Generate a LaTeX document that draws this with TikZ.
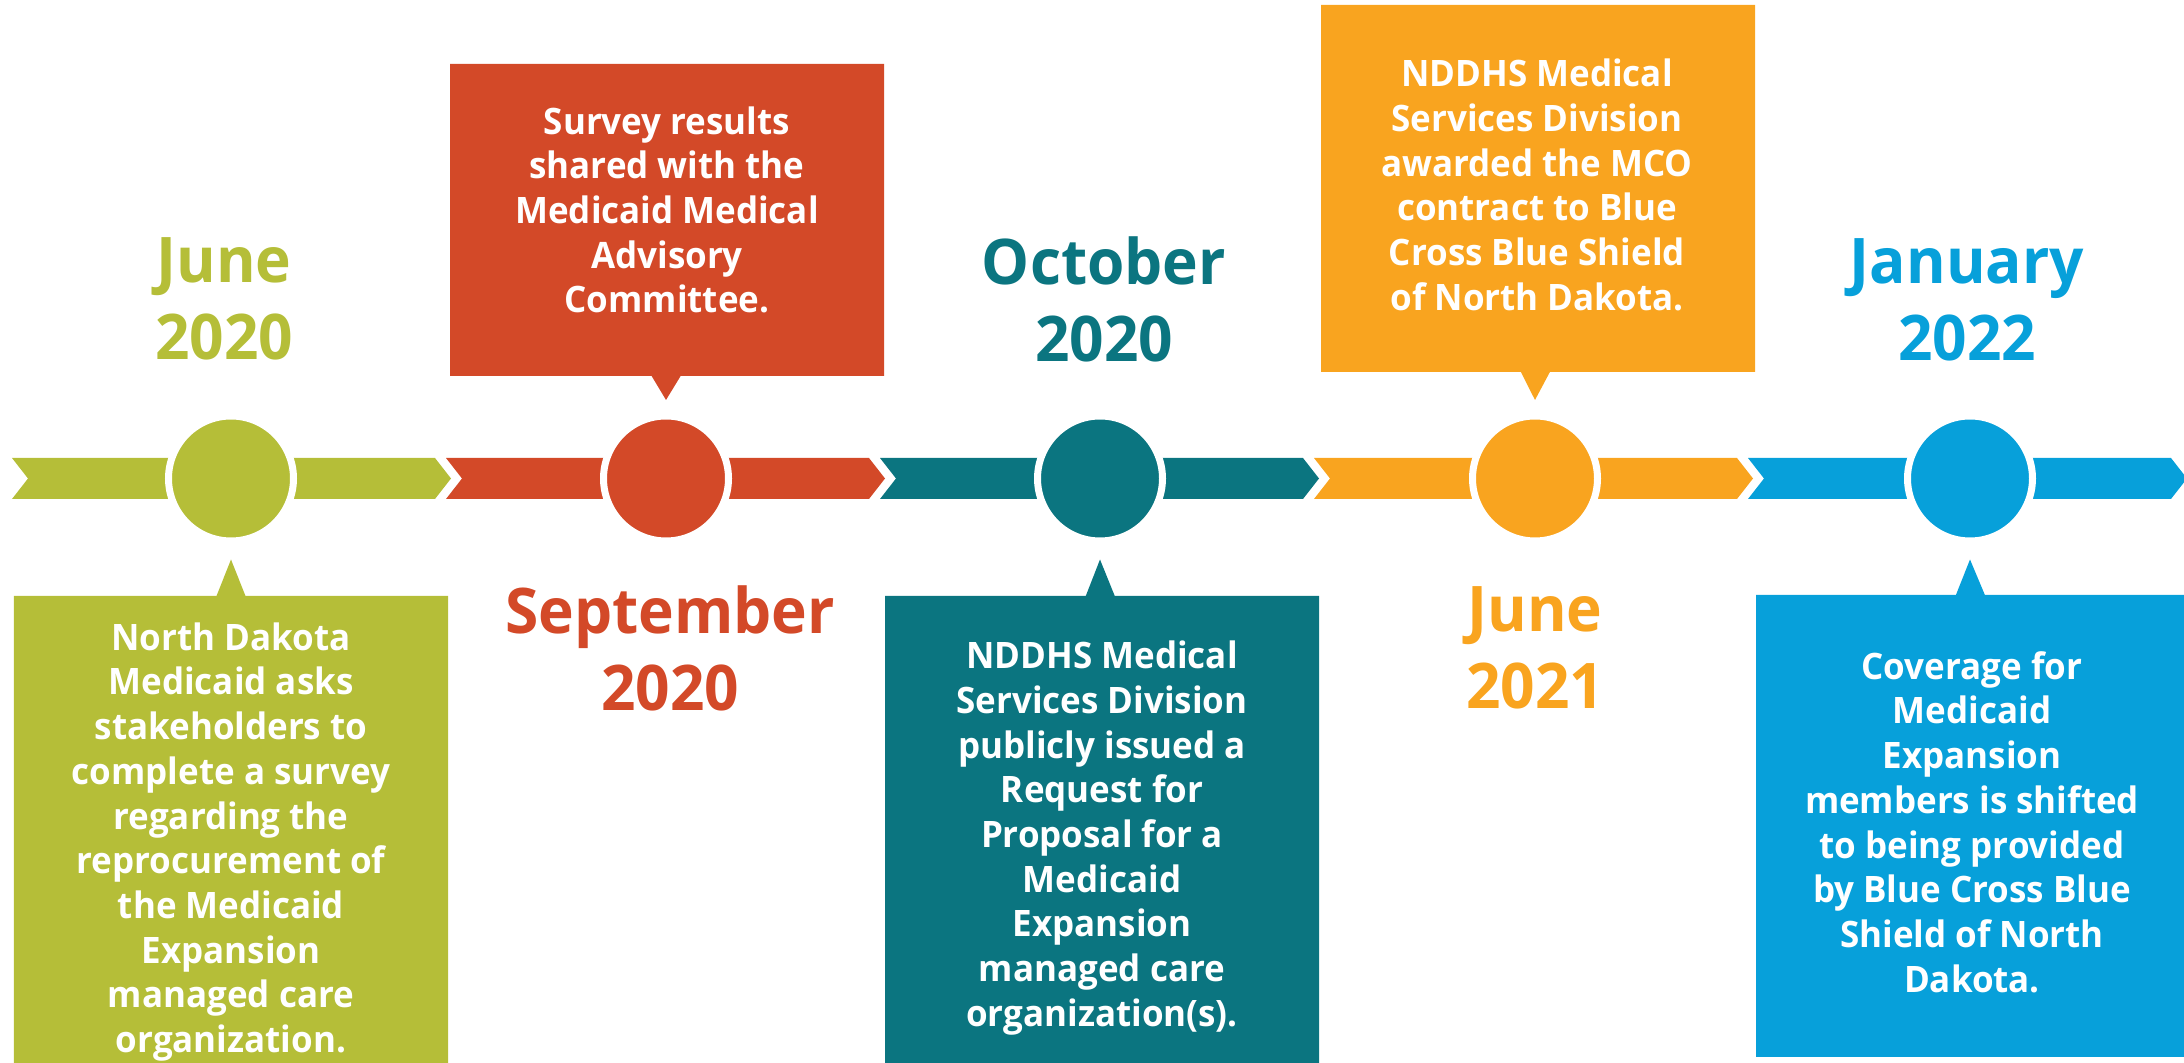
\documentclass[tikz,border=0pt]{standalone}
\usepackage{fontspec}
\setmainfont{Open Sans}[FakeStretch=0.96]
\usetikzlibrary{shapes.callouts}

\definecolor{tlgreen}{RGB}{181,190,56}
\definecolor{tlred}{RGB}{211,73,40}
\definecolor{tlteal}{RGB}{11,117,128}
\definecolor{tlorange}{RGB}{249,164,31}
\definecolor{tlblue}{RGB}{7,160,218}

\begin{document}
\begin{tikzpicture}[
    dot/.style={circle, draw=white, line width=0.07cm, minimum size=1.25cm, inner sep=0pt},
    date/.style={font=\fontsize{17.9}{21.9}\selectfont\bfseries, align=center, inner sep=0pt},
    body/.style={font=\fontsize{10.36}{12.72}\selectfont\bfseries, text=white, align=center, inner sep=0pt},
    callbox/.style={rectangle callout, minimum width=4.34cm, inner sep=0pt, callout pointer width=0.29cm}
  ]
  \useasboundingbox (0,0) rectangle (21.84,-10.63);

  % time band
  \fill[tlgreen]  (0.12,-4.58)  -- (4.35,-4.58)  -- (4.51,-4.785)  -- (4.35,-4.99)  -- (0.12,-4.99)  -- (0.28,-4.785)  -- cycle;
  \fill[tlred]    (4.46,-4.58)  -- (8.69,-4.58)  -- (8.85,-4.785)  -- (8.69,-4.99)  -- (4.46,-4.99)  -- (4.62,-4.785)  -- cycle;
  \fill[tlteal]   (8.80,-4.58)  -- (13.03,-4.58) -- (13.19,-4.785) -- (13.03,-4.99) -- (8.80,-4.99)  -- (8.96,-4.785)  -- cycle;
  \fill[tlorange] (13.14,-4.58) -- (17.37,-4.58) -- (17.53,-4.785) -- (17.37,-4.99) -- (13.14,-4.99) -- (13.30,-4.785) -- cycle;
  \fill[tlblue]   (17.48,-4.58) -- (21.71,-4.58) -- (21.87,-4.785) -- (21.71,-4.99) -- (17.48,-4.99) -- (17.64,-4.785) -- cycle;

  \node[dot, fill=tlgreen]  (dot-jun20) at (2.31,-4.785)  {};
  \node[dot, fill=tlred]    (dot-sep20) at (6.66,-4.785)  {};
  \node[dot, fill=tlteal]   (dot-oct20) at (11.00,-4.785) {};
  \node[dot, fill=tlorange] (dot-jun21) at (15.35,-4.785) {};
  \node[dot, fill=tlblue]   (dot-jan22) at (19.70,-4.785) {};

  % callouts
  \node[callbox, fill=tlgreen,  minimum height=4.94cm,
        callout absolute pointer={([yshift=-0.81cm]dot-jun20.center)}] (call-jun20) at (2.31,-8.43) {};
  \node[callbox, fill=tlred,    minimum height=3.12cm,
        callout absolute pointer={([yshift=0.785cm]dot-sep20.center)}] (call-sep20) at (6.67,-2.20) {};
  \node[callbox, fill=tlteal,   minimum height=4.94cm,
        callout absolute pointer={([yshift=-0.81cm]dot-oct20.center)}] (call-oct20) at (11.02,-8.43) {};
  \node[callbox, fill=tlorange, minimum height=3.67cm,
        callout absolute pointer={([yshift=0.785cm]dot-jun21.center)}] (call-jun21) at (15.38,-1.885) {};
  \node[callbox, fill=tlblue,   minimum height=4.62cm,
        callout absolute pointer={([yshift=-0.81cm]dot-jan22.center)}] (call-jan22) at (19.73,-8.26) {};

  \node[body] (text-jun20) at (2.31,-8.42) {North Dakota\\Medicaid asks\\stakeholders to\\complete a survey\\regarding the\\reprocurement of\\the Medicaid\\Expansion\\managed care\\organization.};
  \node[body] (text-sep20) at (6.67,-2.10) {Survey results\\shared with the\\Medicaid Medical\\Advisory\\Committee.};
  \node[body] (text-oct20) at (11.02,-8.38) {NDDHS Medical\\Services Division\\publicly issued a\\Request for\\Proposal for a\\Medicaid\\Expansion\\managed care\\organization(s).};
  \node[body] (text-jun21) at (15.37,-1.85) {NDDHS Medical\\Services Division\\awarded the MCO\\contract to Blue\\Cross Blue Shield\\of North Dakota.};
  \node[body] (text-jan22) at (19.72,-8.22) {Coverage for\\Medicaid\\Expansion\\members is shifted\\to being provided\\by Blue Cross Blue\\Shield of North\\Dakota.};

  % dates
  \node[date, text=tlgreen]  (date-jun20) at (2.24,-2.99)  {June\\2020};
  \node[date, text=tlred]    (date-sep20) at (6.70,-6.48)  {September\\2020};
  \node[date, text=tlteal]   (date-oct20) at (11.04,-2.99) {October\\2020};
  \node[date, text=tlorange] (date-jun21) at (15.35,-6.48) {June\\2021};
  \node[date, text=tlblue]   (date-jan22) at (19.67,-3.00) {January\\2022};
\end{tikzpicture}
\end{document}
